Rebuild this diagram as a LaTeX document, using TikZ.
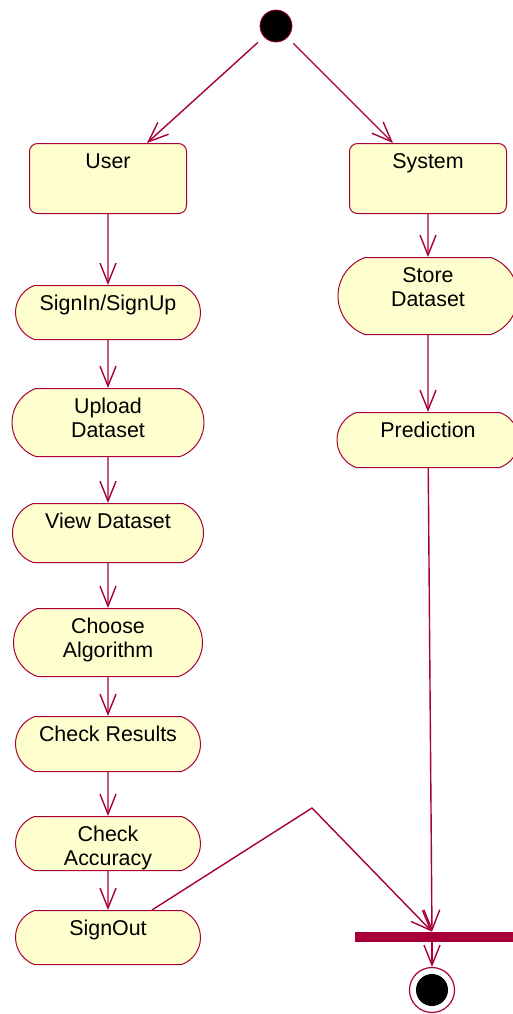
\documentclass[tikz,border=0pt]{standalone}
\usepackage{fontspec}
\setmainfont{Liberation Sans}
\usetikzlibrary{arrows.meta,shapes.misc}
\definecolor{umlred}{HTML}{A80036}
\definecolor{umlfill}{HTML}{FEFECE}

\begin{document}
\begin{tikzpicture}[x=0.5pt,y=-0.5pt,
  font=\fontsize{10.7}{12}\selectfont,
  flow/.style={draw=umlred,line width=0.7pt,-{Straight Barb[length=10pt,width=8pt]}},
  act/.style={rounded rectangle,rounded rectangle arc length=140,draw=umlred,fill=umlfill,
    line width=0.5pt,inner xsep=0pt,inner ysep=0pt,minimum width=92.5pt,
    text height=12.5pt,text depth=#1,align=center,anchor=north},
  act/.default=15pt,
  acttwo/.style={act=#1,text height=24.5pt},
  lane/.style={rectangle,rounded corners=4pt,draw=umlred,fill=umlfill,line width=0.5pt,
    minimum width=78.5pt,inner sep=0pt,text height=12.5pt,text depth=22.5pt,anchor=north}]
\useasboundingbox (0,0) rectangle (513,1014);

\node[circle,fill=black,draw=umlred,minimum size=16pt,inner sep=0pt] (start) at (276,26) {};

\node[lane] (user) at (108,143) {User};
\node[lane] (system) at (428,143) {System};

% user side
\node[act=14.5pt] (signin) at (108,285) {SignIn/SignUp};
\node[acttwo=9.5pt,minimum width=96pt] (upload) at (108,388) {Upload\\Dataset};
\node[act=17pt,minimum width=95.5pt] (view) at (108,503) {View Dataset};
\node[acttwo=9.5pt,minimum width=94.5pt] (choose) at (108,608) {Choose\\Algorithm};
\node[act] (results) at (108,716) {Check Results};
\node[acttwo=2.5pt] (accuracy) at (108,816) {Check\\Accuracy};
\node[act=14.5pt] (signout) at (108,910) {SignOut};

% system side
\node[acttwo=14pt,minimum width=90pt] (store) at (428,257) {Store\\Dataset};
\node[act,minimum width=91pt] (pred) at (428,412) {Prediction};

\node[fill=umlred,minimum width=83pt,minimum height=5pt,inner sep=0pt] (bar) at (438,937) {};
\node[circle,draw=umlred,line width=0.6pt,minimum size=22.5pt,inner sep=0pt] (end) at (432,990) {};
\node[circle,fill=black,minimum size=16pt,inner sep=0pt] (enddot) at (end) {};
\coordinate (bend) at (312,808);

\draw[flow,shorten <=4pt] (start) -- ([xshift=19.5pt]user.north);
\draw[flow,shorten <=4pt] (start) -- ([xshift=-17.5pt]system.north);

\foreach \a/\b in {user/signin,signin/upload,upload/view,view/choose,choose/results,results/accuracy,accuracy/signout}
  \draw[flow] (\a) -- (\b);
\draw[flow] (system) -- (store);
\draw[flow] (store) -- (pred);

\draw[flow] (pred) -- ([xshift=-3pt]bar.north);
\draw[flow] ([xshift=22pt]signout.north) -- (bend) -- ([xshift=-3pt]bar.north);
\draw[flow] ([xshift=-3pt]bar.south) -- (end);
\end{tikzpicture}
\end{document}
